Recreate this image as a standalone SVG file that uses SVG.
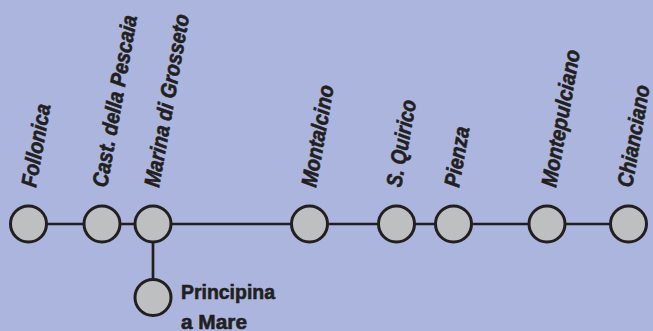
<svg xmlns="http://www.w3.org/2000/svg" width="653" height="331" viewBox="0 0 653 331">
<style>
.bg{fill:#abb5dd}
.st{fill:#bebfc1;stroke:#231f20;stroke-width:3}
.ln{stroke:#231f20;stroke-width:2.7;fill:none}
.lb{font-family:"Liberation Sans",Arial,sans-serif;font-weight:bold;font-style:italic;font-size:22px;fill:#231f20;stroke:#231f20;stroke-width:0.6}
.lh{font-family:"Liberation Sans",Arial,sans-serif;font-weight:bold;font-size:21px;fill:#231f20;stroke:#231f20;stroke-width:0.6}
</style>
<rect class="bg" x="0" y="0" width="653" height="331"/>
<g id="connectors">
<line class="ln" x1="28.5" y1="224" x2="628.5" y2="224"/>
<line class="ln" x1="153" y1="224" x2="153" y2="297.5"/>
</g>
<g id="follonica"><circle class="st" cx="28.5" cy="224" r="18"/><text class="lb" transform="translate(36,188) rotate(-80)" textLength="84" lengthAdjust="spacingAndGlyphs">Follonica</text></g>
<g id="castiglione"><circle class="st" cx="102" cy="224" r="18"/><text class="lb" transform="translate(107,188) rotate(-80)" textLength="174" lengthAdjust="spacingAndGlyphs">Cast. della Pescaia</text></g>
<g id="marina"><circle class="st" cx="153" cy="224" r="18"/><text class="lb" transform="translate(159,188) rotate(-80)" textLength="175" lengthAdjust="spacingAndGlyphs">Marina di Grosseto</text></g>
<g id="principina"><circle class="st" cx="153" cy="297.5" r="18"/><text class="lh" x="181" y="298.5" textLength="94" lengthAdjust="spacingAndGlyphs">Principina</text><text class="lh" x="181" y="328.5" textLength="66" lengthAdjust="spacingAndGlyphs">a Mare</text></g>
<g id="montalcino"><circle class="st" cx="309.5" cy="224" r="18"/><text class="lb" transform="translate(316,188) rotate(-80)" textLength="103" lengthAdjust="spacingAndGlyphs">Montalcino</text></g>
<g id="squirico"><circle class="st" cx="396.5" cy="224" r="18"/><text class="lb" transform="translate(401,188) rotate(-80)" textLength="88" lengthAdjust="spacingAndGlyphs">S. Quirico</text></g>
<g id="pienza"><circle class="st" cx="453.5" cy="224" r="18"/><text class="lb" transform="translate(459,188) rotate(-80)" textLength="61" lengthAdjust="spacingAndGlyphs">Pienza</text></g>
<g id="montepulciano"><circle class="st" cx="547" cy="224" r="18"/><text class="lb" transform="translate(556,188) rotate(-80)" textLength="139" lengthAdjust="spacingAndGlyphs">Montepulciano</text></g>
<g id="chianciano"><circle class="st" cx="628.5" cy="224" r="18"/><text class="lb" transform="translate(632,188) rotate(-80)" textLength="103" lengthAdjust="spacingAndGlyphs">Chianciano</text></g>
</svg>
